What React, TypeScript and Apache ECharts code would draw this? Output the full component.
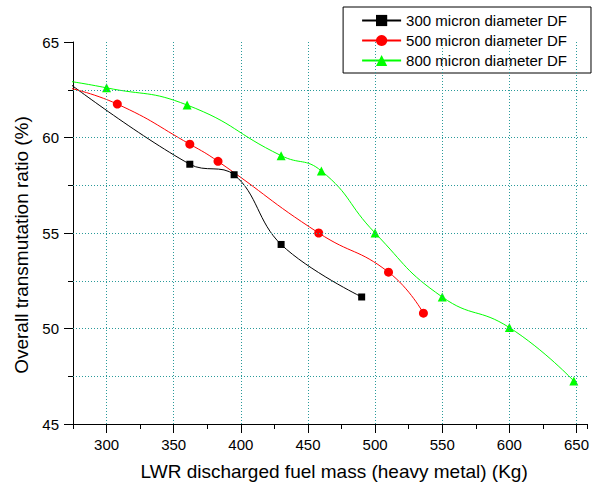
import React, { useEffect, useRef } from "react";
import * as echarts from "echarts";

const FONT = "'Liberation Sans', Arial, Helvetica, sans-serif";

const seriesNames = [
  "300 micron diameter DF",
  "500 micron diameter DF",
  "800 micron diameter DF",
];

const x300 = [270, 362, 395, 430, 490];
const y300 = [62.95, 58.6, 58.05, 54.4, 51.65];

const x500 = [270, 308, 362, 383, 458, 510, 536];
const y500 = [62.63, 61.75, 59.65, 58.75, 55.0, 52.95, 50.8];

const x800 = [270, 300, 360, 430, 460, 500, 550, 600, 648];
const y800 = [62.97, 62.6, 61.7, 59.05, 58.25, 55.0, 51.65, 50.05, 47.25];

const xMajorTicks = [300, 350, 400, 450, 500, 550, 600, 650];
const yGridValues = [47.5, 50, 52.5, 55, 57.5, 60, 62.5];

const pairs = (xs: number[], ys: number[]) => xs.map((x, i) => [x, ys[i]]);

export default function App() {
  const ref = useRef<HTMLDivElement>(null);
  useEffect(() => {
    if (!ref.current) return;
    const chart = echarts.init(ref.current, undefined, { renderer: "svg" });
    const gridLine = { color: "#2a9a9a", width: 1, type: [1, 2] as any };
    const markData: any[] = [
      ...xMajorTicks.map((v) => ({ xAxis: v })),
      ...yGridValues.map((v) => ({ yAxis: v })),
    ];
    chart.setOption({
      animation: false,
      textStyle: { fontFamily: FONT },
      grid: { left: 73, top: 42, right: 2, bottom: 63, containLabel: false },
      legend: {
        data: seriesNames,
        orient: "vertical",
        right: 1,
        top: 7,
        itemWidth: 39,
        itemHeight: 14,
        itemGap: 5,
        padding: [6, 24, 5, 18],
        borderColor: "#000",
        borderWidth: 1,
        backgroundColor: "#fff",
        textStyle: { fontFamily: FONT, fontSize: 15, color: "#000" },
      },
      xAxis: [
        {
          type: "value",
          position: "bottom",
          min: 275,
          max: 658,
          interval: 25,
          axisLine: { show: true, onZero: false, lineStyle: { color: "#000", width: 1 } },
          axisTick: { show: true, length: 5, lineStyle: { color: "#000" } },
          axisLabel: { show: false },
          splitLine: { show: false },
        },
        {
          type: "value",
          position: "bottom",
          min: 275,
          max: 658,
          interval: 25,
          axisLine: { show: false, onZero: false },
          axisTick: {
            show: true,
            length: 9,
            customValues: xMajorTicks,
            lineStyle: { color: "#000" },
          },
          axisLabel: {
            show: true,
            customValues: xMajorTicks,
            formatter: (v: number) => (v % 50 === 0 ? String(v) : ""),
            fontSize: 15,
            color: "#000",
            margin: 13,
            fontFamily: FONT,
          },
          splitLine: { show: false },
          name: "LWR discharged fuel mass (heavy metal) (Kg)",
          nameLocation: "middle",
          nameGap: 38,
          nameTextStyle: { fontSize: 19, color: "#000", fontFamily: FONT, padding: [0, 0, 0, 8] },
        },
      ],
      yAxis: {
        type: "value",
        min: 45,
        max: 65,
        interval: 5,
        axisLine: { show: true, onZero: false, lineStyle: { color: "#000", width: 1 } },
        axisTick: { show: true, length: 9, lineStyle: { color: "#000" } },
        minorTick: { show: true, splitNumber: 2, length: 5, lineStyle: { color: "#000" } },
        axisLabel: { fontSize: 15, color: "#000", margin: 14, fontFamily: FONT },
        splitLine: { show: false },
        name: "Overall transmutation ratio (%)",
        nameLocation: "middle",
        nameGap: 40,
        nameTextStyle: { fontSize: 19, color: "#000", fontFamily: FONT, padding: [0, 24, 0, 0] },
      },
      series: [
        {
          name: "grid",
          type: "line",
          data: [],
          z: 1,
          markLine: {
            silent: true,
            symbol: ["none", "none"],
            label: { show: false },
            lineStyle: gridLine,
            emphasis: { disabled: true },
            data: markData,
          },
        },
        {
          name: seriesNames[0],
          type: "line",
          data: pairs(x300, y300),
          smooth: 0.4,
          symbol: "rect",
          symbolSize: 7,
          z: 3,
          lineStyle: { color: "#000", width: 1 },
          itemStyle: { color: "#000" },
        },
        {
          name: seriesNames[1],
          type: "line",
          data: pairs(x500, y500),
          smooth: 0.5,
          symbol: "circle",
          symbolSize: 9,
          z: 3,
          lineStyle: { color: "#ff0000", width: 1 },
          itemStyle: { color: "#ff0000" },
        },
        {
          name: seriesNames[2],
          type: "line",
          data: pairs(x800, y800),
          smooth: 0.5,
          symbol: "triangle",
          symbolSize: 9,
          z: 3,
          lineStyle: { color: "#00ff00", width: 1 },
          itemStyle: { color: "#00ff00" },
        },
      ],
    });
    return () => chart.dispose();
  }, []);
  return (
    <div
      ref={ref}
      style={{ position: "absolute", left: 0, top: 0, width: 592, height: 487, background: "#fff" }}
    />
  );
}
